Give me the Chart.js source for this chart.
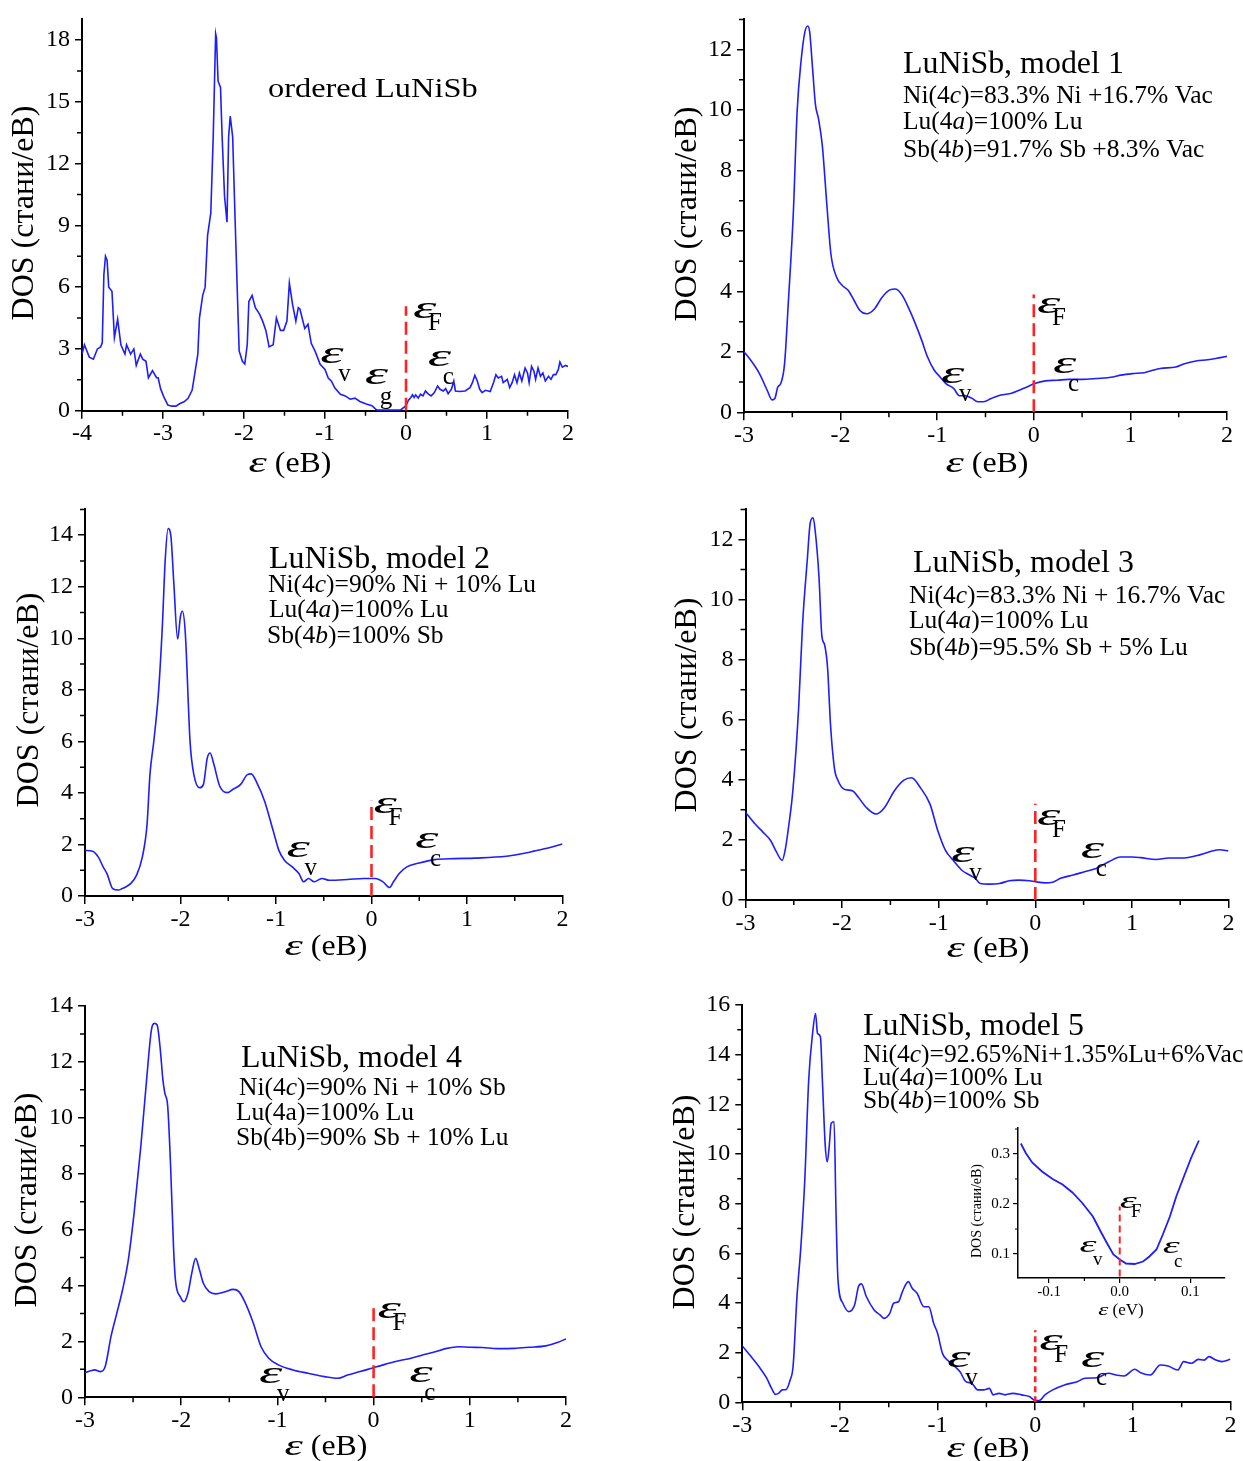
<!DOCTYPE html>
<html>
<head>
<meta charset="utf-8">
<title>LuNiSb DOS</title>
<script src="https://cdn.jsdelivr.net/npm/chart.js@4.4.1/dist/chart.umd.min.js"></script>
<style>
  html, body { margin: 0; background: #fff; }
  #fig { position: relative; width: 1243px; height: 1461px; overflow: hidden; }
  #fig canvas { position: absolute; }
</style>
</head>
<body>
<div id="fig"></div>
<script>
// ordered LuNiSb
const ordE = [
  -4.00, -3.97, -3.91, -3.86, -3.81, -3.77, -3.75, -3.73, -3.71, -3.69,
  -3.67, -3.63, -3.60, -3.56, -3.52, -3.47, -3.45, -3.40, -3.36, -3.33,
  -3.28, -3.25, -3.21, -3.18, -3.13, -3.08, -3.06, -3.03, -2.99, -2.94,
  -2.89, -2.84, -2.79, -2.74, -2.69, -2.64, -2.62, -2.57, -2.55, -2.51,
  -2.48, -2.45, -2.41, -2.38, -2.35, -2.34, -2.32, -2.29, -2.27, -2.24,
  -2.21, -2.19, -2.17, -2.14, -2.11, -2.06, -2.02, -1.99, -1.96, -1.94,
  -1.90, -1.86, -1.81, -1.77, -1.73, -1.69, -1.64, -1.60, -1.55, -1.51,
  -1.47, -1.44, -1.40, -1.36, -1.33, -1.31, -1.25, -1.21, -1.17, -1.12,
  -1.06, -1.00, -0.96, -0.92, -0.88, -0.81, -0.75, -0.69, -0.63, -0.57,
  -0.49, -0.42, -0.36, -0.07, 0.00, 0.03, 0.06, 0.08, 0.10, 0.12,
  0.15, 0.18, 0.21, 0.24, 0.27, 0.31, 0.35, 0.39, 0.42, 0.46,
  0.49, 0.52, 0.56, 0.59, 0.61, 0.66, 0.73, 0.79, 0.82, 0.85,
  0.88, 0.91, 0.94, 0.98, 1.04, 1.08, 1.11, 1.14, 1.18, 1.20,
  1.25, 1.28, 1.31, 1.34, 1.37, 1.40, 1.43, 1.47, 1.50, 1.52,
  1.55, 1.58, 1.60, 1.63, 1.66, 1.69, 1.72, 1.76, 1.79, 1.82,
  1.85, 1.88, 1.90, 1.93, 1.97, 2.00
];
const ordDos = [
  2.75, 3.2, 2.6, 2.5, 3.0, 3.1, 3.3, 6.6, 7.5, 7.3,
  6.0, 5.8, 3.55, 4.45, 3.2, 2.75, 3.2, 2.75, 3.0, 2.2,
  2.75, 2.5, 2.4, 1.6, 1.95, 1.6, 1.6, 1.07, 0.67, 0.27,
  0.22, 0.22, 0.35, 0.43, 0.6, 1.0, 1.5, 2.75, 4.5, 5.6,
  6.0, 8.5, 9.6, 13.3, 18.3, 18.1, 16.0, 15.7, 13.3, 10.4,
  9.15, 13.3, 14.3, 13.3, 9.3, 2.9, 2.4, 2.27, 3.2, 5.3,
  5.6, 5.0, 4.7, 4.35, 3.9, 3.1, 3.2, 4.5, 3.9, 3.9,
  4.35, 6.2, 5.15, 4.35, 5.0, 4.94, 3.99, 4.2, 3.27, 2.87,
  2.25, 2.0, 1.59, 1.43, 1.11, 0.8, 0.72, 0.56, 0.61, 0.45,
  0.32, 0.24, 0.03, 0.03, 0.24, 0.51, 0.64, 0.77, 0.64, 0.77,
  0.61, 0.8, 0.72, 0.96, 0.83, 0.72, 0.88, 1.2, 1.04, 0.96,
  1.07, 0.83, 1.04, 1.44, 0.96, 0.93, 0.96, 1.12, 1.36, 1.72,
  1.44, 1.04, 0.88, 0.99, 0.93, 1.36, 1.75, 1.59, 1.67, 1.36,
  1.52, 1.12, 1.36, 1.75, 1.36, 1.83, 1.44, 2.07, 1.83, 1.36,
  2.15, 1.91, 1.52, 2.07, 1.67, 1.83, 1.44, 1.67, 1.52, 1.75,
  1.75, 1.99, 2.36, 2.11, 2.2, 2.15
];

// model 1
const m1E = [
  -3.00, -2.93, -2.84, -2.76, -2.71, -2.68, -2.65, -2.62, -2.58, -2.54,
  -2.49, -2.45, -2.41, -2.37, -2.34, -2.32, -2.29, -2.26, -2.23, -2.19,
  -2.14, -2.10, -2.04, -1.98, -1.92, -1.86, -1.80, -1.73, -1.65, -1.57,
  -1.49, -1.43, -1.36, -1.30, -1.24, -1.16, -1.10, -1.03, -0.97, -0.91,
  -0.83, -0.77, -0.71, -0.64, -0.58, -0.52, -0.44, -0.34, -0.23, -0.15,
  -0.07, 0.01, 0.12, 0.24, 0.36, 0.49, 0.65, 0.82, 0.90, 1.02,
  1.14, 1.23, 1.31, 1.47, 1.56, 1.68, 1.80, 1.93, 2.00
];
const m1Dos = [
  2.0, 1.72, 1.28, 0.73, 0.41, 0.46, 0.84, 0.95, 1.61, 3.70,
  6.55, 9.95, 11.6, 12.58, 12.78, 12.58, 11.37, 10.17, 9.73, 8.85,
  6.77, 5.23, 4.46, 4.19, 4.03, 3.70, 3.37, 3.26, 3.42, 3.81,
  4.05, 4.08, 3.86, 3.48, 3.04, 2.38, 1.83, 1.39, 1.17, 0.95,
  0.79, 0.55, 0.55, 0.46, 0.35, 0.35, 0.46, 0.57, 0.63, 0.73,
  0.84, 0.95, 1.04, 1.06, 1.09, 1.09, 1.12, 1.17, 1.23, 1.28,
  1.31, 1.39, 1.45, 1.50, 1.61, 1.70, 1.74, 1.81, 1.85
];

// model 2
const m2E = [
  -3.00, -2.92, -2.86, -2.81, -2.77, -2.71, -2.65, -2.61, -2.57, -2.52,
  -2.46, -2.40, -2.35, -2.32, -2.28, -2.23, -2.19, -2.16, -2.13, -2.10,
  -2.07, -2.03, -2.00, -1.98, -1.95, -1.90, -1.86, -1.80, -1.76, -1.72,
  -1.69, -1.65, -1.59, -1.51, -1.45, -1.37, -1.30, -1.26, -1.20, -1.12,
  -1.03, -0.97, -0.91, -0.83, -0.76, -0.71, -0.66, -0.60, -0.52, -0.44,
  -0.25, -0.08, 0.04, 0.12, 0.19, 0.23, 0.29, 0.37, 0.50, 0.66,
  0.87, 1.08, 1.41, 1.57, 1.70, 1.86, 2.00
];
const m2Dos = [
  1.77, 1.74, 1.51, 1.13, 0.87, 0.29, 0.23, 0.29, 0.36, 0.49,
  0.81, 1.51, 2.79, 4.71, 5.99, 7.92, 10.48, 13.04, 14.26, 13.94,
  12.14, 9.97, 10.86, 11.05, 10.22, 5.99, 4.71, 4.20, 4.33, 5.35,
  5.55, 5.10, 4.27, 4.01, 4.14, 4.33, 4.71, 4.74, 4.39, 3.69,
  2.54, 1.77, 1.38, 1.13, 0.87, 0.55, 0.68, 0.55, 0.68, 0.61,
  0.64, 0.68, 0.68, 0.55, 0.33, 0.55, 0.87, 1.13, 1.28, 1.41,
  1.45, 1.47, 1.54, 1.64, 1.74, 1.87, 2.02
];

// model 3
const m3E = [
  -3.00, -2.90, -2.82, -2.74, -2.68, -2.62, -2.59, -2.55, -2.51, -2.45,
  -2.41, -2.36, -2.33, -2.30, -2.28, -2.24, -2.21, -2.18, -2.15, -2.12,
  -2.08, -2.04, -1.98, -1.89, -1.83, -1.75, -1.65, -1.56, -1.46, -1.36,
  -1.28, -1.19, -1.09, -1.01, -0.93, -0.85, -0.76, -0.68, -0.62, -0.57,
  -0.48, -0.37, -0.27, -0.17, -0.06, 0.00, 0.10, 0.18, 0.26, 0.39,
  0.51, 0.63, 0.76, 0.88, 1.00, 1.09, 1.25, 1.38, 1.54, 1.71,
  1.83, 1.91, 2.00
];
const m3Dos = [
  2.92, 2.53, 2.26, 1.98, 1.60, 1.32, 1.65, 2.53, 3.63, 6.39,
  9.14, 11.34, 12.55, 12.72, 12.33, 10.79, 8.81, 8.48, 7.71, 5.84,
  4.40, 3.96, 3.69, 3.63, 3.41, 3.08, 2.86, 3.08, 3.63, 3.99,
  4.07, 3.74, 3.19, 2.31, 1.65, 1.32, 0.99, 0.83, 0.72, 0.55,
  0.53, 0.55, 0.64, 0.66, 0.64, 0.61, 0.57, 0.59, 0.72, 0.83,
  0.94, 1.05, 1.27, 1.43, 1.43, 1.41, 1.35, 1.40, 1.40, 1.51,
  1.63, 1.67, 1.63
];

// model 4
const m4E = [
  -3.00, -2.94, -2.90, -2.84, -2.79, -2.73, -2.67, -2.61, -2.55, -2.49,
  -2.42, -2.36, -2.31, -2.28, -2.25, -2.22, -2.19, -2.17, -2.14, -2.11,
  -2.08, -2.06, -2.01, -1.97, -1.93, -1.89, -1.85, -1.81, -1.77, -1.71,
  -1.64, -1.54, -1.46, -1.40, -1.34, -1.25, -1.17, -1.09, -0.99, -0.84,
  -0.68, -0.51, -0.37, -0.27, -0.14, -0.02, 0.10, 0.23, 0.39, 0.51,
  0.64, 0.76, 0.88, 1.01, 1.13, 1.29, 1.46, 1.62, 1.79, 1.91,
  2.00
];
const m4Dos = [
  0.88, 0.95, 0.98, 0.92, 1.10, 2.17, 3.00, 3.84, 4.91, 6.58,
  8.97, 11.35, 13.14, 13.38, 13.32, 12.54, 11.35, 10.88, 10.40, 8.25,
  5.39, 4.20, 3.60, 3.42, 3.72, 4.44, 4.97, 4.56, 4.08, 3.78,
  3.70, 3.78, 3.86, 3.78, 3.42, 2.65, 1.81, 1.40, 1.16, 0.98,
  0.86, 0.74, 0.68, 0.80, 0.92, 1.04, 1.16, 1.28, 1.40, 1.51,
  1.63, 1.75, 1.81, 1.79, 1.78, 1.74, 1.75, 1.79, 1.84, 1.96,
  2.09
];

// model 5
const m5E = [
  -3.00, -2.91, -2.83, -2.75, -2.70, -2.66, -2.63, -2.59, -2.55, -2.51,
  -2.48, -2.44, -2.40, -2.36, -2.32, -2.28, -2.25, -2.23, -2.20, -2.18,
  -2.15, -2.13, -2.11, -2.09, -2.06, -2.04, -2.02, -1.97, -1.91, -1.85,
  -1.81, -1.78, -1.73, -1.65, -1.59, -1.55, -1.49, -1.45, -1.40, -1.36,
  -1.30, -1.26, -1.21, -1.14, -1.09, -1.04, -1.00, -0.95, -0.90, -0.84,
  -0.77, -0.71, -0.65, -0.59, -0.53, -0.47, -0.43, -0.37, -0.31, -0.23,
  -0.14, -0.06, 0.00, 0.04, 0.10, 0.18, 0.30, 0.43, 0.51, 0.63,
  0.75, 0.83, 0.91, 1.02, 1.08, 1.18, 1.28, 1.36, 1.46, 1.52,
  1.60, 1.67, 1.73, 1.78, 1.85, 1.91, 2.00
];
const m5Dos = [
  2.27, 1.84, 1.44, 0.97, 0.56, 0.32, 0.36, 0.50, 0.52, 0.90,
  1.44, 4.26, 6.27, 8.95, 12.98, 14.86, 15.66, 14.86, 14.72, 12.98,
  10.30, 9.69, 10.30, 11.23, 11.30, 7.61, 4.93, 3.99, 3.65, 3.92,
  4.66, 4.77, 4.26, 3.72, 3.52, 3.38, 3.58, 3.99, 4.05, 4.46,
  4.86, 4.59, 4.39, 3.85, 3.85, 3.18, 2.78, 1.97, 1.70, 1.50,
  1.23, 0.83, 0.77, 0.50, 0.50, 0.56, 0.30, 0.36, 0.30, 0.36,
  0.30, 0.23, 0.07, 0.07, 0.30, 0.50, 0.70, 0.83, 0.97, 0.99,
  1.17, 1.10, 1.06, 1.33, 1.19, 1.10, 1.50, 1.46, 1.30, 1.64,
  1.57, 1.73, 1.70, 1.84, 1.70, 1.64, 1.73
];

// model 5, close-up around the Fermi level
const insetE = [
  -0.140, -0.133, -0.124, -0.110, -0.095, -0.081, -0.067, -0.053, -0.038, -0.027,
  -0.017, -0.009, 0.000, 0.009, 0.021, 0.033, 0.042, 0.052, 0.061, 0.071,
  0.080, 0.090, 0.101, 0.112
];
const insetDos = [
  0.321, 0.302, 0.283, 0.265, 0.250, 0.239, 0.223, 0.202, 0.175, 0.145,
  0.119, 0.099, 0.089, 0.081, 0.080, 0.085, 0.095, 0.109, 0.139, 0.175,
  0.215, 0.252, 0.292, 0.327
];

// top of the dashed Fermi-level marker in each panel
const fermiTop = [5.07, 3.9, 3.7, 3.2, 3.2, 2.9];
const insetFermi = [0.055, 0.195];

// axis ticks
const xTicksWide = [-4, -3, -2, -1, 0, 1, 2];
const xTicks = [-3, -2, -1, 0, 1, 2];
const yTicksOrd = [0, 3, 6, 9, 12, 15, 18];
const yTicks12 = [0, 2, 4, 6, 8, 10, 12];
const yTicks14 = [0, 2, 4, 6, 8, 10, 12, 14];
const yTicks16 = [0, 2, 4, 6, 8, 10, 12, 14, 16];
const insetXTicks = [-0.1, 0, 0.1];
const insetYTicks = [0.1, 0.2, 0.3];

const FONT = '"Liberation Serif", "Times New Roman", serif';
const BLUE = '#1d1dff';
const RED = '#ff2222';
const DOS_LABEL = 'DOS (стани/еВ)';

const mainStyle = {
  tickFont: 24, xTickLen: 8, yTickLen: 7, xPad: 1, yPad: 5, minor: 5, tickWidth: 1.5, border: 2,
  yTitle: 32, xTitle: { size: 29, epsSx: 1.6, sx: 1.1 },
  eps: 32, epsSx: 1.85, sub: 25, k: 1, lineW: 1.6, head: 31, headSx: 1.03, line: 25.5
};
const insetStyle = {
  tickFont: 15, xTickLen: 5, yTickLen: 5, xPad: 0, yPad: 3, minor: 3, tickWidth: 1.2, border: 1.5,
  yTitle: 14, xTitle: { size: 17, epsSx: 1.5, sx: 1.0 },
  eps: 24, epsSx: 1.8, sub: 19, k: 0.75, lineW: 1.8
};

// box = canvas [left, top, width, height]; area = plot [left, top, right, bottom], page px
const panels = [
  {
    e: ordE, dos: ordDos, fermi: [0, fermiTop[0]], dash: [13, 6], smooth: false, style: mainStyle,
    box: [0, 0, 615, 485], area: [82, 15, 568, 410.7],
    xRange: [-4, 2], yRange: [0, 19], xTicks: xTicksWide, yTicks: yTicksOrd,
    unit: 'еВ', yTitle: [25, 213], xTitle: [290, 472],
    head: ['ordered LuNiSb', 268, 97, 27, 1.2], lines: [],
    marks: [['F', 0.086, 4.5], ['v', -1.06, 2.3], ['g', -0.51, 1.29], ['c', 0.27, 2.15]]
  },
  {
    e: m1E, dos: m1Dos, fermi: [0, fermiTop[1]], dash: [13, 6], smooth: true, style: mainStyle,
    box: [620, 0, 623, 485], area: [744, 17.3, 1227, 412.3],
    xRange: [-3, 2], yRange: [0, 13], xTicks: xTicks, yTicks: yTicks12,
    unit: 'еВ', yTitle: [687.5, 214], xTitle: [987, 472],
    head: ['LuNiSb, model 1', 903, 73.3],
    lines: [['Ni(4|c|)=83.3% Ni +16.7% Vac', 903, 103.3], ['Lu(4|a|)=100% Lu', 903, 129.3], ['Sb(4|b|)=91.7% Sb +8.3% Vac', 903, 156.7]],
    marks: [['F', 0.034, 3.27], ['v', -0.96, 0.96], ['c', 0.2, 1.3]]
  },
  {
    e: m2E, dos: m2Dos, fermi: [0, fermiTop[2]], dash: [13, 6], smooth: true, style: mainStyle,
    box: [0, 490, 615, 480], area: [85, 505.7, 562.5, 896],
    xRange: [-3, 2], yRange: [0, 15], xTicks: xTicks, yTicks: yTicks14,
    unit: 'еВ', yTitle: [29.6, 700], xTitle: [326, 955],
    head: ['LuNiSb, model 2', 269, 568],
    lines: [['Ni(4|c|)=90% Ni + 10% Lu', 268, 592], ['Lu(4|a|)=100% Lu', 269, 617], ['Sb(4|b|)=100% Sb', 267, 643]],
    marks: [['F', 0.02, 3.23], ['v', -0.89, 1.5], ['c', 0.455, 1.85]]
  },
  {
    e: m3E, dos: m3Dos, fermi: [0, fermiTop[3]], dash: [13, 6], smooth: true, style: mainStyle,
    box: [620, 490, 623, 480], area: [745.5, 506.4, 1228.5, 900],
    xRange: [-3, 2], yRange: [0, 13], xTicks: xTicks, yTicks: yTicks12,
    unit: 'еВ', yTitle: [687.5, 705], xTitle: [988, 957],
    head: ['LuNiSb, model 3', 913, 572],
    lines: [['Ni(4|c|)=83.3% Ni + 16.7% Vac', 909, 603], ['Lu(4|a|)=100% Lu', 909, 628], ['Sb(4|b|)=95.5% Sb + 5% Lu', 909, 655]],
    marks: [['F', 0.018, 2.48], ['v', -0.87, 1.25], ['c', 0.47, 1.39]]
  },
  {
    e: m4E, dos: m4Dos, fermi: [0, fermiTop[4]], dash: [13, 6], smooth: true, style: mainStyle,
    box: [0, 980, 615, 481], area: [85, 1006, 566, 1397.3],
    xRange: [-3, 2], yRange: [0, 14], xTicks: xTicks, yTicks: yTicks14,
    unit: 'еВ', yTitle: [27.7, 1200], xTitle: [326, 1455],
    head: ['LuNiSb, model 4', 241, 1067],
    lines: [['Ni(4|c|)=90% Ni + 10% Sb', 239, 1095], ['Lu(4a)=100% Lu', 236, 1120], ['Sb(4b)=90% Sb + 10% Lu', 236, 1145]],
    marks: [['F', 0.04, 2.84], ['v', -1.19, 0.51], ['c', 0.37, 0.55]]
  },
  {
    e: m5E, dos: m5Dos, fermi: [0, fermiTop[5]], dash: [6, 4], smooth: true, style: mainStyle,
    box: [620, 980, 623, 481], area: [742.3, 1005, 1230.5, 1402.3],
    xRange: [-3, 2], yRange: [0, 16], xTicks: xTicks, yTicks: yTicks16,
    unit: 'еВ', yTitle: [685.5, 1202], xTitle: [988, 1457],
    head: ['LuNiSb, model 5', 863, 1035],
    lines: [['Ni(4|c|)=92.65%Ni+1.35%Lu+6%Vac', 863, 1062], ['Lu(4|a|)=100% Lu', 863, 1085], ['Sb(4|b|)=100% Sb', 863, 1108]],
    marks: [['F', 0.04, 2.1], ['v', -0.9, 1.43], ['c', 0.47, 1.43]]
  },
  {
    e: insetE, dos: insetDos, fermi: insetFermi, dash: [7, 4], smooth: false, style: insetStyle,
    box: [940, 1112, 303, 215], area: [1018, 1128, 1225, 1278],
    xRange: [-0.144, 0.149], yRange: [0.052, 0.352], xTicks: insetXTicks, yTicks: insetYTicks, fixed: 1,
    unit: 'eV', yTitle: [977, 1211], xTitle: [1121, 1315],
    head: null, lines: [],
    marks: [['F', 0.0, 0.193], ['v', -0.057, 0.105], ['c', 0.061, 0.102]]
  }
];

function minorOf(ticks, range) {
  const half = (ticks[1] - ticks[0]) / 2;
  const out = [];
  ticks.forEach((t, i) => {
    if (i === 0 && t - half >= range[0] - 1e-9) out.push(t - half);
    if (t + half <= range[1] + 1e-9) out.push(t + half);
  });
  return out;
}

function drawRich(ctx, x, y, str, size, sx) {
  const parts = str.split('|').map((t, i) => ({ t, it: i % 2 === 1 }));
  ctx.save();
  ctx.translate(x, y);
  ctx.scale(sx, 1);
  let cx = 0;
  parts.forEach(q => {
    ctx.font = `${q.it ? 'italic ' : ''}${size}px ${FONT}`;
    ctx.fillText(q.t, cx, 0);
    cx += ctx.measureText(q.t).width;
  });
  ctx.restore();
}

function drawAxisTitle(ctx, cx, y, unit, s) {
  const italic = `italic ${s.size}px ${FONT}`;
  const plain = `${s.size}px ${FONT}`;
  const rest = ' (' + unit + ')';
  ctx.font = italic;
  const we = ctx.measureText('ε').width * s.epsSx;
  ctx.font = plain;
  const wr = ctx.measureText(rest).width * s.sx;
  const x = cx - (we + wr) / 2;
  ctx.save();
  ctx.translate(x, y); ctx.scale(s.epsSx, 1); ctx.font = italic; ctx.fillText('ε', 0, 0);
  ctx.restore();
  ctx.save();
  ctx.translate(x + we, y); ctx.scale(s.sx, 1); ctx.font = plain; ctx.fillText(rest, 0, 0);
  ctx.restore();
}

function drawMark(ctx, x, y, sub, st) {
  ctx.save();
  ctx.translate(x, y);
  ctx.scale(st.epsSx, 1);
  ctx.font = `italic ${st.eps}px ${FONT}`;
  const m = ctx.measureText('ε');
  ctx.fillText('ε', m.actualBoundingBoxLeft, 0);
  ctx.restore();
  const dx = (sub === 'v' ? 18 : 15) * st.k;
  const dy = (sub === 'F' ? 12 : sub === 'g' ? 20 : 18) * st.k;
  ctx.font = `${st.sub}px ${FONT}`;
  ctx.fillText(sub, x + dx, y + dy);
}

function textPlugin(p) {
  return {
    id: 'panelText',
    afterDatasetsDraw(chart) {
      const ctx = chart.ctx;
      const a = chart.chartArea;
      const xs = chart.scales.x, ys = chart.scales.y;
      const ox = p.box[0], oy = p.box[1];
      const st = p.style;
      ctx.save();
      ctx.fillStyle = '#000';
      ctx.strokeStyle = '#000';
      ctx.textAlign = 'left';
      ctx.textBaseline = 'alphabetic';

      // minor ticks
      ctx.lineWidth = st.tickWidth;
      ctx.beginPath();
      minorOf(p.xTicks, p.xRange).forEach(v => {
        const px = xs.getPixelForValue(v);
        ctx.moveTo(px, a.bottom); ctx.lineTo(px, a.bottom + st.minor);
      });
      minorOf(p.yTicks, p.yRange).forEach(v => {
        const py = ys.getPixelForValue(v);
        ctx.moveTo(a.left, py); ctx.lineTo(a.left - st.minor, py);
      });
      ctx.stroke();

      // axis titles
      ctx.save();
      ctx.translate(p.yTitle[0] - ox, p.yTitle[1] - oy);
      ctx.rotate(-Math.PI / 2);
      ctx.font = `${st.yTitle}px ${FONT}`;
      ctx.textAlign = 'center';
      ctx.textBaseline = 'middle';
      ctx.fillText(DOS_LABEL, 0, 0);
      ctx.restore();
      drawAxisTitle(ctx, p.xTitle[0] - ox, p.xTitle[1] - oy, p.unit, st.xTitle);

      // composition notes
      if (p.head) {
        const [t, hx, hy, size, sx] = p.head;
        drawRich(ctx, hx - ox, hy - oy, t, size || st.head, sx || st.headSx);
      }
      p.lines.forEach(([t, lx, ly]) => drawRich(ctx, lx - ox, ly - oy, t, st.line, 1));

      // band edge labels
      p.marks.forEach(([sub, mx, my]) => {
        drawMark(ctx, xs.getPixelForValue(mx), ys.getPixelForValue(my), sub, st);
      });
      ctx.restore();
    }
  };
}

function axis(p, horizontal) {
  const st = p.style;
  const [bl, bt, bw, bh] = p.box;
  const [al, at, ar, ab] = p.area;
  const ticks = horizontal ? p.xTicks : p.yTicks;
  const range = horizontal ? p.xRange : p.yRange;
  return {
    type: 'linear',
    position: horizontal ? 'bottom' : 'left',
    bounds: 'data',
    min: range[0],
    max: range[1],
    afterBuildTicks: s => { s.ticks = ticks.map(v => ({ value: v })); },
    afterFit: s => {
      if (horizontal) s.height = bt + bh - ab;
      else s.width = al - bl;
    },
    ticks: {
      autoSkip: false,
      maxRotation: 0,
      color: '#000',
      padding: horizontal ? st.xPad : st.yPad,
      font: { family: FONT, size: st.tickFont },
      callback: v => (p.fixed ? Number(v).toFixed(p.fixed) : String(v))
    },
    grid: {
      drawOnChartArea: false,
      drawTicks: true,
      tickLength: horizontal ? st.xTickLen : st.yTickLen,
      color: '#000',
      lineWidth: st.tickWidth
    },
    border: { display: true, color: '#000', width: st.border }
  };
}

const fig = document.getElementById('fig');

panels.forEach(p => {
  const [bl, bt, bw, bh] = p.box;
  const [al, at, ar, ab] = p.area;
  const cv = document.createElement('canvas');
  cv.width = bw;
  cv.height = bh;
  cv.style.left = bl + 'px';
  cv.style.top = bt + 'px';
  fig.appendChild(cv);

  new Chart(cv, {
    type: 'line',
    data: {
      datasets: [
        {
          data: p.e.map((e, i) => ({ x: e, y: p.dos[i] })),
          borderColor: BLUE,
          borderWidth: p.style.lineW,
          pointRadius: 0,
          cubicInterpolationMode: p.smooth ? 'monotone' : 'default',
          tension: 0,
          order: 2
        },
        {
          data: [{ x: 0, y: p.fermi[0] }, { x: 0, y: p.fermi[1] }],
          borderColor: RED,
          borderWidth: p.style === insetStyle ? 2 : 2.6,
          borderDash: p.dash,
          pointRadius: 0,
          order: 1
        }
      ]
    },
    options: {
      responsive: false,
      animation: false,
      devicePixelRatio: 1,
      events: [],
      layout: { padding: { left: 0, top: at - bt, right: bl + bw - ar, bottom: 0 } },
      scales: { x: axis(p, true), y: axis(p, false) },
      plugins: { legend: { display: false }, tooltip: { enabled: false } }
    },
    plugins: [textPlugin(p)]
  });
});
</script>
</body>
</html>
